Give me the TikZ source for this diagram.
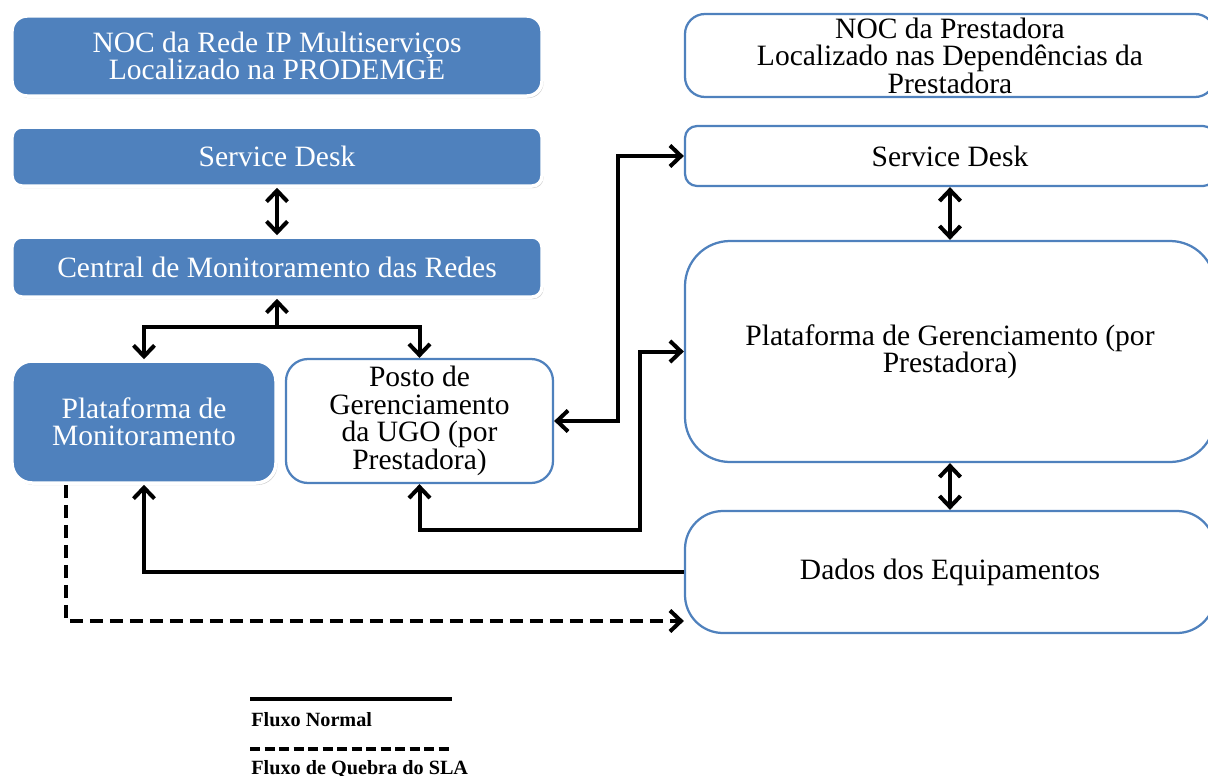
\documentclass[tikz,border=0pt]{standalone}
\usepackage{fontspec}
\setmainfont{Liberation Serif}
\usetikzlibrary{positioning,arrows.meta,shadows}
\definecolor{noc}{HTML}{4F81BD}
\definecolor{ink}{HTML}{000000}
\newcommand{\boxfont}{\fontsize{16.8}{15.6}\selectfont}
\newcommand{\legfont}{\fontsize{11.5}{13}\selectfont\bfseries}
\tikzset{
  bluebox/.style={draw=white, line width=0.7mm, fill=noc, text=white, align=center,
                  font=\boxfont, inner sep=2pt,
                  drop shadow={shadow xshift=0.3mm, shadow yshift=-0.4mm, fill=black!40, opacity=0.45}},
  linebox/.style={draw=noc, line width=0.45mm, fill=white, text=ink, align=center,
                  font=\boxfont, inner sep=2pt},
  tip/.tip={Straight Barb[length=2.2mm, width=4.2mm]},
  ar/.style={-tip, line width=0.8mm, color=ink},
  dar/.style={tip-tip, line width=0.8mm, color=ink},
  sla/.style={ar, dash pattern=on 2.6mm off 1.4mm},
  lgd/.style={font=\legfont, text=ink, inner sep=0pt, anchor=base west},
}

\begin{document}
\begin{tikzpicture}[x=0.2mm, y=-0.2mm]
\clip (0,0) rectangle (1208,776);

% --- NOC PRODEMGE ---
\node[bluebox, rounded corners=3mm, minimum width=106mm, minimum height=16mm] (nocL) at (277,56)
  {NOC da Rede IP Multiserviços\\Localizado na PRODEMGE};
\node[bluebox, rounded corners=2mm, minimum width=106mm, minimum height=11.8mm] (sdL) at (277,156.5)
  {Service Desk};
\node[bluebox, rounded corners=2mm, minimum width=106mm, minimum height=12mm] (cmr) at (277,267)
  {Central de Monitoramento das Redes};
\node[bluebox, rounded corners=4mm, minimum width=52.8mm, minimum height=24.4mm] (pmon) at (144,422)
  {Plataforma de\\Monitoramento};
\node[linebox, rounded corners=4.4mm, minimum width=53.4mm, minimum height=24.8mm] (posto) at (419.5,421)
  {Posto de\\Gerenciamento\\da UGO (por\\Prestadora)};

% --- NOC PRESTADORA ---
\node[linebox, rounded corners=4mm, minimum width=106mm, minimum height=16.6mm] (nocR) at (950,55.5)
  {NOC da Prestadora\\Localizado nas Dependências da\\Prestadora};
\node[linebox, rounded corners=2.4mm, minimum width=106mm, minimum height=12mm] (sdR) at (950,156)
  {Service Desk};
\node[linebox, rounded corners=9mm, minimum width=106mm, minimum height=44.2mm] (pger) at (950,351.5)
  {Plataforma de Gerenciamento (por\\Prestadora)};
\node[linebox, rounded corners=7.6mm, minimum width=106mm, minimum height=24.4mm] (dados) at (950,572)
  {Dados dos Equipamentos};

% --- fluxos ---
\coordinate (jc) at (277,327);
\coordinate (k1) at (640,530);

\draw[dar] (sdL.south) -- (cmr.north);
\draw[ar] (jc) -- (cmr.south);
\draw[dar] (pmon.north) |- (jc) -| (posto.north);
\draw[dar] (posto.east) -- ++(64,0) |- (sdR.west);
\draw[dar] (posto.south) |- (k1) |- (pger.west);
\draw[dar] (sdR.south) -- (pger.north);
\draw[dar] (pger.south) -- (dados.north);
\draw[ar] (dados.west) -| (pmon.south);
\draw[sla] ([xshift=-15.6mm]pmon.south) |- ([yshift=-9.8mm]dados.west);

% --- legenda ---
\coordinate (n1) at (250,699);
\coordinate (n2) at (452,699);
\coordinate (q1) at (250,749);
\coordinate (q2) at (452,749);
\draw[line width=0.8mm] (n1) -- (n2);
\draw[line width=0.8mm, dash pattern=on 2mm off 0.9mm] (q1) -- (q2);
\node[lgd] (lgn) at (251,726) {Fluxo Normal};
\node[lgd] (lgq) at (251,774) {Fluxo de Quebra do SLA};

\end{tikzpicture}
\end{document}
